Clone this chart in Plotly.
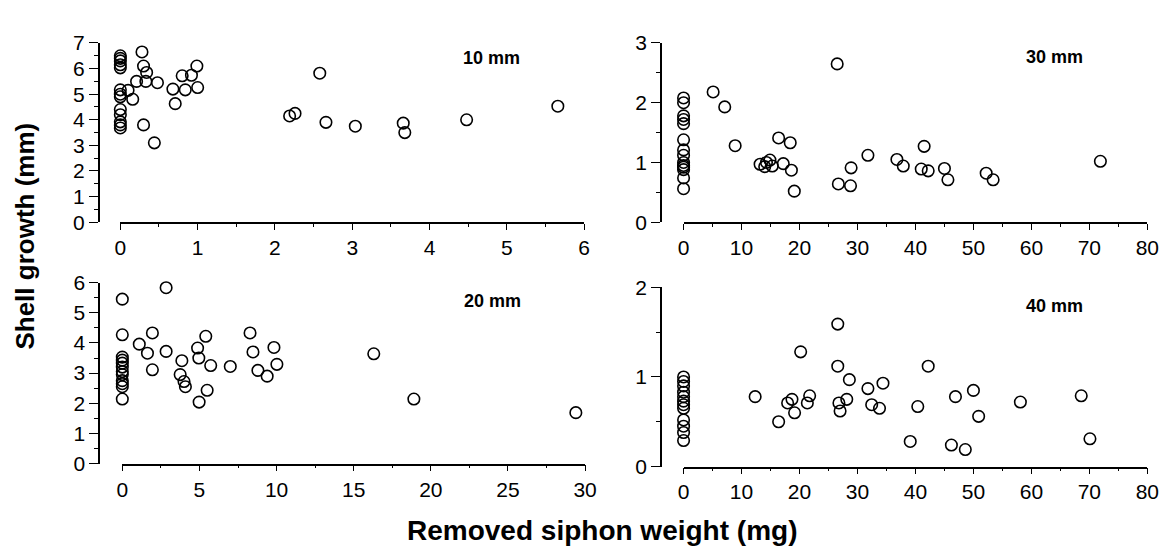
import plotly.graph_objects as go

W, H = 1173, 551

# ---- Data ----
x10 = [0, 0, 0, 0, 0, 0, 0, 0, 0, 0, 0, 0, 0,
       0.10, 0.16, 0.21, 0.28, 0.30, 0.34, 0.33, 0.30, 0.44, 0.48, 0.68, 0.71,
       0.80, 0.84, 0.92, 0.99, 1.00, 2.19, 2.26, 2.58, 2.66, 3.04, 3.66, 3.68,
       4.48, 5.66]
y10 = [6.5, 6.4, 6.3, 6.15, 6.03, 5.17, 5.0, 4.9, 4.4, 4.2, 3.92, 3.8, 3.68,
       5.15, 4.8, 5.5, 6.65, 6.1, 5.85, 5.5, 3.8, 3.1, 5.45, 5.2, 4.63,
       5.72, 5.17, 5.74, 6.1, 5.26, 4.15, 4.25, 5.82, 3.9, 3.75, 3.87, 3.5,
       4.0, 4.53]

x30 = [0] * 14 + [5.1, 7.1, 8.9, 13.2, 14.0, 14.3, 14.9, 15.3, 16.4, 17.2,
                  18.4, 18.6, 19.1, 26.5, 26.7, 28.8, 28.9, 31.8, 36.8, 37.9,
                  41.5, 41.0, 42.2, 45.0, 45.6, 52.2, 53.4, 71.9]
y30 = [2.08, 2.0, 1.78, 1.72, 1.65, 1.38, 1.21, 1.12, 1.0, 0.95, 0.92, 0.88,
       0.74, 0.56,
       2.18, 1.93, 1.28, 0.97, 0.93, 1.0, 1.04, 0.94, 1.41, 0.98,
       1.33, 0.87, 0.52, 2.65, 0.64, 0.61, 0.91, 1.12, 1.05, 0.94,
       1.27, 0.89, 0.86, 0.9, 0.71, 0.82, 0.71, 1.02]

x20 = [0] * 12 + [1.1, 1.63, 1.95, 1.95, 2.84, 2.84, 3.86, 3.75, 4.0, 4.09,
                  4.88, 4.96, 4.98, 5.41, 5.5, 5.73, 7.0, 8.28, 8.47, 8.79,
                  9.39, 9.83, 10.02, 16.3, 18.9, 29.4]
y20 = [5.45, 4.27, 3.53, 3.43, 3.33, 3.2, 3.05, 2.95, 2.75, 2.65, 2.55, 2.14,
       3.96, 3.66, 4.33, 3.11, 5.83, 3.72, 3.41, 2.95, 2.72, 2.55,
       3.83, 3.5, 2.04, 4.22, 2.43, 3.25, 3.22, 4.33, 3.7, 3.09,
       2.9, 3.85, 3.29, 3.64, 2.14, 1.69]

x40 = [0] * 12 + [12.35, 16.4, 17.95, 18.7, 19.15, 20.2, 21.35, 21.75, 26.6,
                  26.6, 26.8, 27.0, 28.15, 28.6, 31.8, 32.45, 33.8, 34.4,
                  39.1, 40.4, 42.2, 46.2, 46.9, 48.6, 50.0, 50.9, 58.1,
                  68.6, 70.1]
y40 = [1.0, 0.95, 0.9, 0.83, 0.78, 0.73, 0.69, 0.65, 0.52, 0.45, 0.38, 0.29,
       0.78, 0.5, 0.71, 0.75, 0.6, 1.28, 0.71, 0.79, 1.59,
       1.12, 0.71, 0.62, 0.75, 0.97, 0.87, 0.69, 0.65, 0.93,
       0.28, 0.67, 1.12, 0.24, 0.78, 0.19, 0.85, 0.56, 0.72,
       0.79, 0.31]

panel_labels = ["10 mm", "30 mm", "20 mm", "40 mm"]
y_title = "Shell growth (mm)"
x_title = "Removed siphon weight (mg)"

FONT = "Liberation Sans, Arial, sans-serif"

def px_x(p):
    return p / W

def px_y(p):
    return 1 - p / H

# panel geometry in pixels: (x0, x1, ytop, ybottom, yaxis_x)
panels = [
    dict(x=x10, y=y10, xr=[0, 6], yr=[0, 7], xd=1, xm=0.5, yd=1, ym=0.5,
         geo=(108, 579, 24, 211, 86), lab=(485, 40)),
    dict(x=x30, y=y30, xr=[0, 80], yr=[0, 3], xd=10, xm=5, yd=1, ym=0.5,
         geo=(680, 1151, 24, 211, 657), lab=(1057, 39)),
    dict(x=x20, y=y20, xr=[0, 30], yr=[0, 6], xd=5, xm=2.5, yd=1, ym=0.5,
         geo=(110, 580, 274, 463, 86.5), lab=(486, 293)),
    dict(x=x40, y=y40, xr=[0, 80], yr=[0, 2], xd=10, xm=5, yd=1, ym=0.5,
         geo=(680, 1151, 279, 466, 657), lab=(1057, 298)),
]

fig = go.Figure()
layout = {}
annotations = []
for i, p in enumerate(panels):
    n = "" if i == 0 else str(i + 1)
    x0, x1, yt, yb, yax = p["geo"]
    fig.add_trace(go.Scatter(
        x=p["x"], y=p["y"], mode="markers", xaxis="x" + n, yaxis="y" + n,
        marker=dict(symbol="circle-open", size=11.5, color="black",
                    line=dict(width=1.6, color="black")),
        cliponaxis=False, showlegend=False, hoverinfo="x+y"))
    layout["xaxis" + n] = dict(
        domain=[px_x(x0), px_x(x1)], range=p["xr"], anchor="y" + n,
        showgrid=False, zeroline=False, showline=True, linecolor="black",
        linewidth=1.5, ticks="outside", ticklen=6, tickwidth=1.3,
        tickcolor="black", dtick=p["xd"], tick0=0,
        minor=dict(ticks="outside", ticklen=3, dtick=p["xm"], tickcolor="black",
                   tickwidth=1, showgrid=False),
        tickfont=dict(family=FONT, size=21, color="black"))
    layout["yaxis" + n] = dict(
        domain=[px_y(yb), px_y(yt)], range=p["yr"], anchor="free",
        position=px_x(yax),
        showgrid=False, zeroline=False, showline=True, linecolor="black",
        linewidth=1.5, ticks="outside", ticklen=9, tickwidth=1.3,
        tickcolor="black", dtick=p["yd"], tick0=0,
        minor=dict(ticks="outside", ticklen=4, dtick=p["ym"], tickcolor="black",
                   tickwidth=1, showgrid=False),
        tickfont=dict(family=FONT, size=21, color="black"))
    lx, ly = p["lab"]
    annotations.append(dict(
        text="<b>%s</b>" % panel_labels[i], x=px_x(lx), y=px_y(ly),
        xref="paper", yref="paper", xanchor="center", yanchor="middle",
        showarrow=False, font=dict(family=FONT, size=18, color="black")))

annotations.append(dict(
    text="<b>%s</b>" % y_title, x=0, y=px_y(226), xref="paper",
    yref="paper", xanchor="left", yanchor="middle", textangle=-90,
    xshift=-6, showarrow=False, font=dict(family=FONT, size=26, color="black")))
annotations.append(dict(
    text="<b>%s</b>" % x_title, x=px_x(597), y=px_y(533), xref="paper",
    yref="paper", xanchor="center", yanchor="middle",
    showarrow=False, font=dict(family=FONT, size=28, color="black")))

fig.update_layout(
    width=W, height=H, margin=dict(l=0, r=0, t=0, b=0),
    paper_bgcolor="white", plot_bgcolor="white",
    annotations=annotations, **layout)

fig.write_html("out.html")
